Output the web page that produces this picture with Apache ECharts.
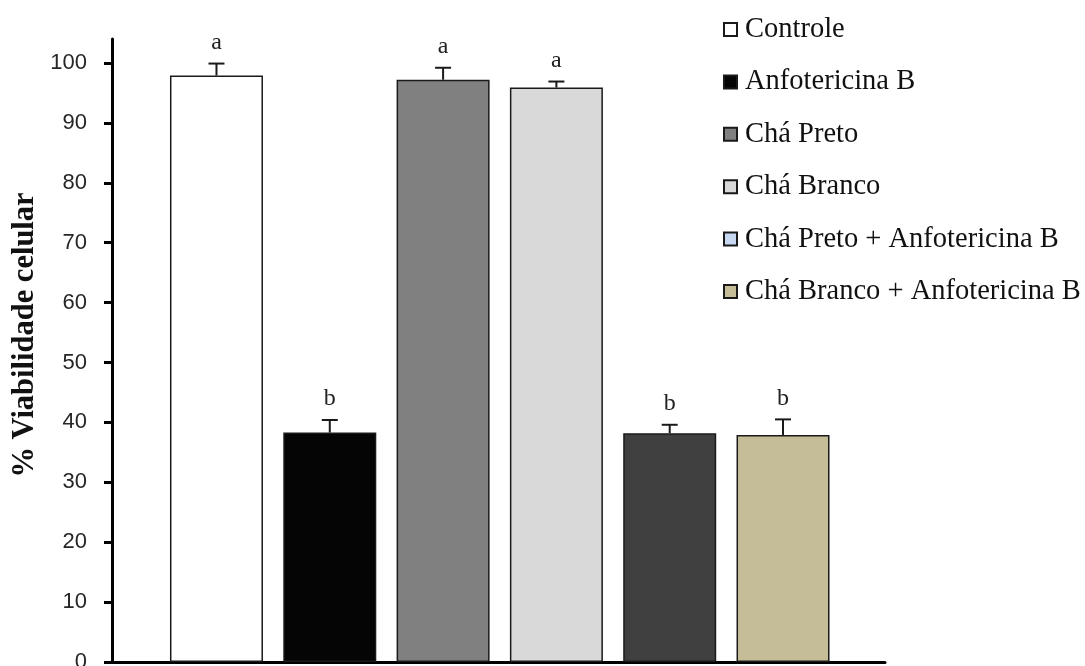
<!DOCTYPE html>
<html>
<head>
<meta charset="utf-8">
<script src="https://cdn.jsdelivr.net/npm/echarts@6/dist/echarts.min.js"></script>
<style>
  html, body { margin: 0; padding: 0; background: #fff; }
  #chart { width: 1085px; height: 666px; }
</style>
</head>
<body>
<div id="chart"></div>
<script>
// dados
const grupos = ["Controle", "Anfotericina B", "Chá Preto", "Chá Branco", "Chá Preto + Anfotericina B", "Chá Branco + Anfotericina B"];
const viabilidade = [97.9, 38.3, 97.2, 95.9, 38.2, 37.9];
const erros = [2.0, 2.1, 2.0, 1.0, 1.4, 2.6];
const letras = ["a", "b", "a", "a", "b", "b"];
const coresBarra = ["#ffffff", "#050505", "#808080", "#d9d9d9", "#404040", "#c4bd97"];
const coresLegenda = ["#ffffff", "#050505", "#808080", "#d9d9d9", "#c6d9f1", "#c4bd97"];
const ticksY = [0, 10, 20, 30, 40, 50, 60, 70, 80, 90, 100];

const chart = echarts.init(document.getElementById("chart"));

const barSeries = grupos.map((nome, i) => ({
  name: nome,
  type: "bar",
  barWidth: 93,
  barGap: "-100%",
  itemStyle: { color: coresLegenda[i], borderColor: "#1a1a1a", borderWidth: 1.5 },
  data: [{ value: [i + 1, viabilidade[i]], itemStyle: { color: coresBarra[i] } }],
  z: 2
}));

// barras de erro + letras
const errorSeries = {
  name: "erro",
  type: "custom",
  z: 5,
  data: grupos.map((g, i) => [i + 1, viabilidade[i], erros[i]]),
  renderItem: (params, api) => {
    const x = api.value(0);
    const v = api.value(1);
    const e = api.value(2);
    const base = api.coord([x, v]);
    const top = api.coord([x, v + e]);
    return {
      type: "group",
      children: [
        { type: "line", shape: { x1: base[0], y1: base[1], x2: top[0], y2: top[1] },
          style: { stroke: "#1a1a1a", lineWidth: 2 } },
        { type: "line", shape: { x1: top[0] - 8, y1: top[1], x2: top[0] + 8, y2: top[1] },
          style: { stroke: "#1a1a1a", lineWidth: 2 } },
        { type: "text", x: top[0], y: top[1] - 21,
          style: { text: letras[params.dataIndex], fill: "#222", fontSize: 24,
                   fontFamily: "Liberation Serif", align: "center", verticalAlign: "middle" } }
      ]
    };
  }
};

chart.setOption({
  backgroundColor: "#ffffff",
  animation: false,
  grid: { left: 112, right: 200, top: 39, bottom: 4, outerBoundsMode: "none", containLabel: false },
  legend: {
    data: grupos,
    orient: "vertical",
    left: 723,
    top: 15,
    padding: 0,
    itemWidth: 13,
    itemHeight: 13,
    itemGap: 23.4,
    icon: "rect",
    textStyle: { fontFamily: "Liberation Serif", fontSize: 28.5, color: "#111", padding: [0, 0, 0, 3] }
  },
  xAxis: {
    type: "value",
    min: 0.078,
    max: 6.9,
    axisLine: { show: true, lineStyle: { color: "#000", width: 3 } },
    axisTick: { show: false },
    axisLabel: { show: false },
    splitLine: { show: false }
  },
  yAxis: {
    type: "value",
    min: 0,
    max: 104,
    axisLine: { show: true, lineStyle: { color: "#000", width: 3 } },
    axisTick: { show: true, length: 8, customValues: ticksY, lineStyle: { color: "#000", width: 3 } },
    axisLabel: { customValues: ticksY, margin: 25, fontFamily: "Liberation Sans", fontSize: 22, color: "#262626" },
    splitLine: { show: false }
  },
  graphic: [{
    type: "text",
    x: 25,
    y: 335,
    rotation: Math.PI / 2,
    style: { text: "% Viabilidade celular", fontFamily: "Liberation Serif", fontWeight: "bold",
             fontSize: 30.5, fill: "#111", align: "center", verticalAlign: "middle" }
  }],
  series: [...barSeries, errorSeries]
});
</script>
</body>
</html>
